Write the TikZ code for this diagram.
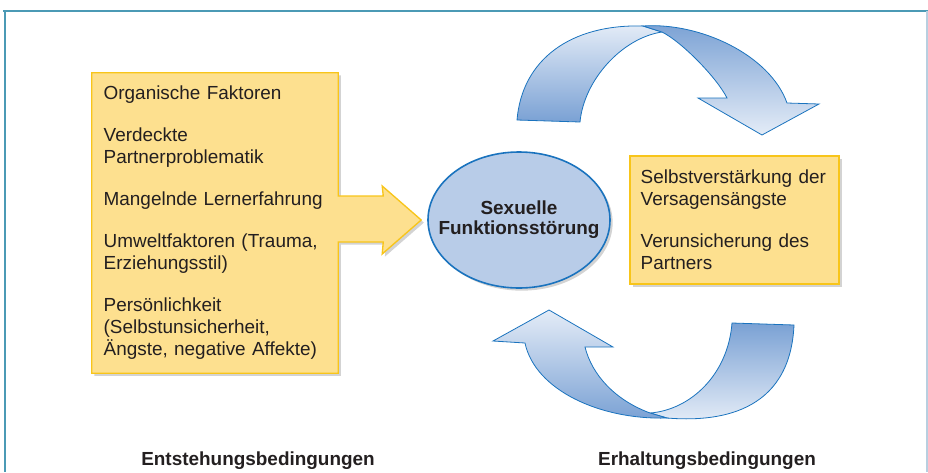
\documentclass[tikz,border=0pt]{standalone}
\usepackage{fontspec}
\setmainfont{Liberation Sans}
\usetikzlibrary{shapes,arrows,positioning,calc,backgrounds,shadows}
\definecolor{boxfill}{RGB}{253,224,143}
\definecolor{boxline}{RGB}{248,197,26}
\definecolor{ovalfill}{RGB}{184,204,232}
\definecolor{ovalline}{RGB}{26,115,190}
\definecolor{ribbonlight}{RGB}{228,236,247}
\definecolor{ribbondark}{RGB}{122,161,212}
\definecolor{framecolor}{RGB}{75,154,181}
\definecolor{framelight}{RGB}{184,207,224}
\definecolor{textcolor}{RGB}{35,31,32}

\begin{document}
\begin{tikzpicture}[x=0.75pt, y=-0.75pt,
    every node/.style={text=textcolor},
    itemtext/.style={font=\fontsize{14.2}{16.5}\selectfont, align=left},
    caption/.style={font=\bfseries\fontsize{14.2}{17}\selectfont, anchor=base},
    softshadow/.style={drop shadow={shadow xshift=2pt, shadow yshift=-2pt, opacity=0.35}},
    ribbon/.style={draw=ovalline, line width=0.6pt}]
  \useasboundingbox (0,0) rectangle (928,472);

  % frame
  \draw[framecolor, line width=1.5pt] (3,11) -- (928,11);
  \draw[framecolor, line width=1pt] (5,11) -- (5,472);
  \draw[framelight, line width=1pt] (927,11) -- (927,472);

  % causes
  \node[itemtext, text width=167pt, minimum width=184.5pt, minimum height=225pt,
        inner xsep=8.75pt] (faktoren) at (215,223)
       {Organische Faktoren\\[15pt]
        Verdeckte\\Partnerproblematik\\[15pt]
        Mangelnde Lernerfahrung\\[15pt]
        Umweltfaktoren (Trauma,\\Erziehungsstil)\\[15pt]
        Persönlichkeit\\(Selbstunsicherheit,\\Ängste, negative Affekte)};

  \node[ellipse, draw=ovalline, line width=1.2pt, fill=ovalfill, softshadow,
        minimum width=136.5pt, minimum height=102pt, inner sep=0pt] (oval) at (519,220) {};
  \node[align=center, font=\bfseries\fontsize{14.2}{15}\selectfont] (stoerung) at (oval)
       {Sexuelle\\Funktionsstörung};

  \coordinate (tip) at ($(oval.west)+(-6,0)$);
  \begin{scope}[on background layer]
    \draw[boxline, fill=boxfill, line width=1pt, softshadow]
      (faktoren.north west) -- (faktoren.north east)
      -- ($(faktoren.east)+(0,-27)$) -- ($(faktoren.east)+(45,-27)$)
      -- ($(tip)+(-39,-34)$) -- (tip) -- ($(tip)+(-39,34)$)
      -- ($(faktoren.east)+(45,19)$) -- ($(faktoren.east)+(0,19)$)
      -- (faktoren.south east) -- (faktoren.south west) -- cycle;
  \end{scope}

  % consequences
  \node[itemtext, fill=boxfill, draw=boxline, line width=1pt, softshadow,
        text width=140.75pt, minimum height=96pt, inner xsep=8pt] (folgen) at (734.5,220)
       {Selbstverstärkung der\\Versagensängste\\[15pt]
        Verunsicherung des\\Partners};

  % upper ribbon arrow
  \draw[ribbon, top color=ribbonlight, bottom color=ribbondark]
    (517,120) .. controls (522,60) and (570,24) .. (643,26) -- (662,32)
    .. controls (622,38) and (584,80) .. (580,122) -- cycle;
  \draw[ribbon, top color=ribbondark, bottom color=ribbonlight]
    (643,26) .. controls (700,22) and (770,55) .. (787,103) -- (819,104)
    -- (762,135) -- (698,98) -- (727,98)
    .. controls (717,78) and (682,42) .. (662,32) -- cycle;

  % lower ribbon arrow
  \draw[ribbon, top color=ribbondark, bottom color=ribbonlight]
    (732,323) -- (794,325) .. controls (790,415) and (715,422) .. (667,418)
    -- (650,413) .. controls (690,410) and (728,375) .. (732,323) -- cycle;
  \draw[ribbon, top color=ribbonlight, bottom color=ribbondark]
    (667,418) .. controls (600,420) and (535,390) .. (525,343) -- (493,341)
    -- (549,310) -- (613,347) -- (585,347)
    .. controls (592,375) and (615,400) .. (650,413) -- cycle;

  \node[caption] (entstehung) at (258,465) {Entstehungsbedingungen};
  \node[caption] (erhaltung) at (707,465) {Erhaltungsbedingungen};
\end{tikzpicture}
\end{document}
